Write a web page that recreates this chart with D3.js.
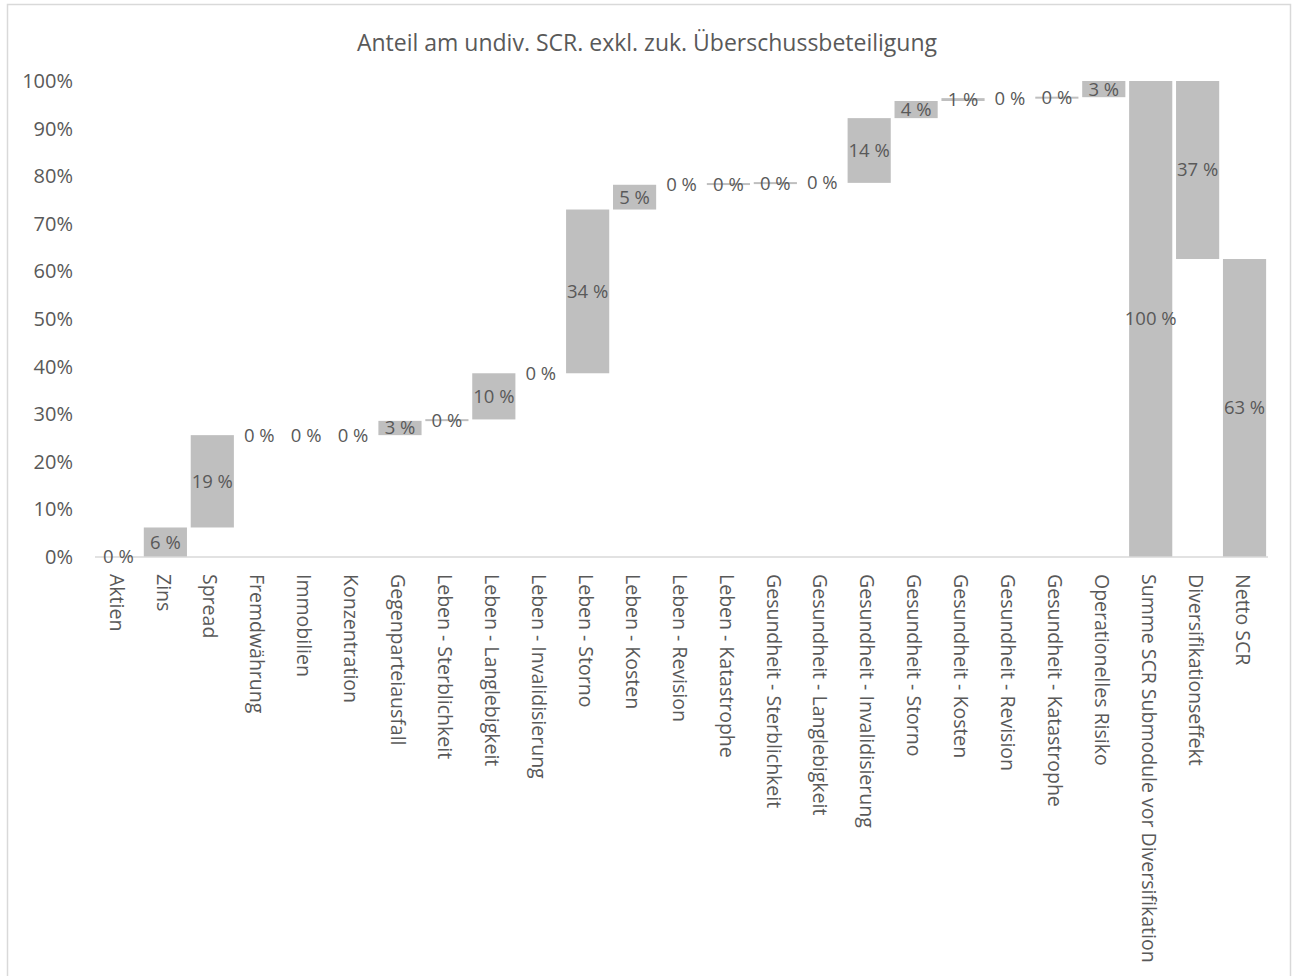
<!DOCTYPE html>
<html>
<head>
<meta charset="utf-8">
<script src="https://cdn.jsdelivr.net/npm/d3@7"></script>
<style>
  html, body { margin: 0; padding: 0; background: #fff; }
  svg { display: block; }
  text { font-family: "Open Sans", sans-serif; fill: #595959; }
</style>
</head>
<body>
<svg id="chart" width="1293" height="976"></svg>
<script>
const title = "Anteil am undiv. SCR. exkl. zuk. Überschussbeteiligung";
const categories = [
  "Aktien", "Zins", "Spread", "Fremdwährung", "Immobilien", "Konzentration",
  "Gegenparteiausfall", "Leben - Sterblichkeit", "Leben - Langlebigkeit",
  "Leben - Invalidisierung", "Leben - Storno", "Leben - Kosten", "Leben - Revision",
  "Leben - Katastrophe", "Gesundheit - Sterblichkeit", "Gesundheit - Langlebigkeit",
  "Gesundheit - Invalidisierung", "Gesundheit - Storno", "Gesundheit - Kosten",
  "Gesundheit - Revision", "Gesundheit - Katastrophe", "Operationelles Risiko",
  "Summe SCR Submodule vor Diversifikation", "Diversifikationseffekt", "Netto SCR"
];
// change in percent; "total" marks bars that start at zero
const values = [
  0.0, 6.2, 19.4, 0.0, 0.0, 0.0,
  3.0, 0.3, 9.7,
  0.0, 34.4, 5.2, 0.0,
  0.3, 0.1, 0.0,
  13.6, 3.6, 0.6,
  0.0, 0.2, 3.4,
  100.0, -37.4, 62.6
];
const isTotal = [
  false, false, false, false, false, false,
  false, false, false, false, false, false, false,
  false, false, false, false, false, false,
  false, false, false,
  true, false, true
];
const yTicks = [0, 10, 20, 30, 40, 50, 60, 70, 80, 90, 100];

// build waterfall segments
let running = 0;
const data = categories.map((c, i) => {
  let start, end;
  if (isTotal[i]) { start = 0; end = values[i]; running = values[i]; }
  else { start = running; end = running + values[i]; running = end; }
  return { cat: c, value: values[i], lo: Math.min(start, end), hi: Math.max(start, end) };
});

const svg = d3.select("#chart");

// outer chart border
svg.append("rect")
  .attr("x", 7.5).attr("y", 4.5).attr("width", 1283).attr("height", 1000)
  .attr("fill", "none").attr("stroke", "#d9d9d9").attr("stroke-width", 1.5);

const x = d3.scaleBand().domain(categories).range([95, 1268]).paddingInner(0.08).paddingOuter(0.04);
const y = d3.scaleLinear().domain([0, 100]).range([557, 81]);

// title
svg.append("text")
  .attr("x", 647).attr("y", 51)
  .attr("text-anchor", "middle")
  .style("font-size", "23px")
  .text(title);

// y axis labels
svg.append("g").selectAll("text").data(yTicks).join("text")
  .attr("x", 73).attr("y", d => y(d))
  .attr("dy", "0.35em")
  .attr("text-anchor", "end")
  .style("font-size", "20px")
  .text(d => d + "%");

// bars
svg.append("g").selectAll("rect").data(data.filter(d => d.hi - d.lo > 0)).join("rect")
  .attr("x", d => x(d.cat))
  .attr("width", x.bandwidth())
  .attr("y", d => {
    const h = y(d.lo) - y(d.hi);
    return h < 2 ? (y(d.lo) + y(d.hi)) / 2 - 1 : y(d.hi);
  })
  .attr("height", d => Math.max(2, y(d.lo) - y(d.hi)))
  .attr("fill", "#bfbfbf");

// x axis line
svg.append("line")
  .attr("x1", 95).attr("x2", 1268).attr("y1", 557).attr("y2", 557)
  .attr("stroke", "#d9d9d9").attr("stroke-width", 1.5);

// data labels
svg.append("g").selectAll("text").data(data).join("text")
  .attr("x", d => x(d.cat) + x.bandwidth() / 2)
  .attr("y", d => y((d.lo + d.hi) / 2))
  .attr("dy", "0.35em")
  .attr("text-anchor", "middle")
  .style("font-size", "18.5px")
  .text(d => Math.round(Math.abs(d.value)) + " %");

// category labels (rotated)
svg.append("g").selectAll("text").data(categories).join("text")
  .attr("transform", d => `translate(${x(d) + x.bandwidth() / 2 - 2},574) rotate(90)`)
  .attr("dy", "0.35em")
  .attr("text-anchor", "start")
  .style("font-size", "19.5px")
  .text(d => d);
</script>
</body>
</html>
